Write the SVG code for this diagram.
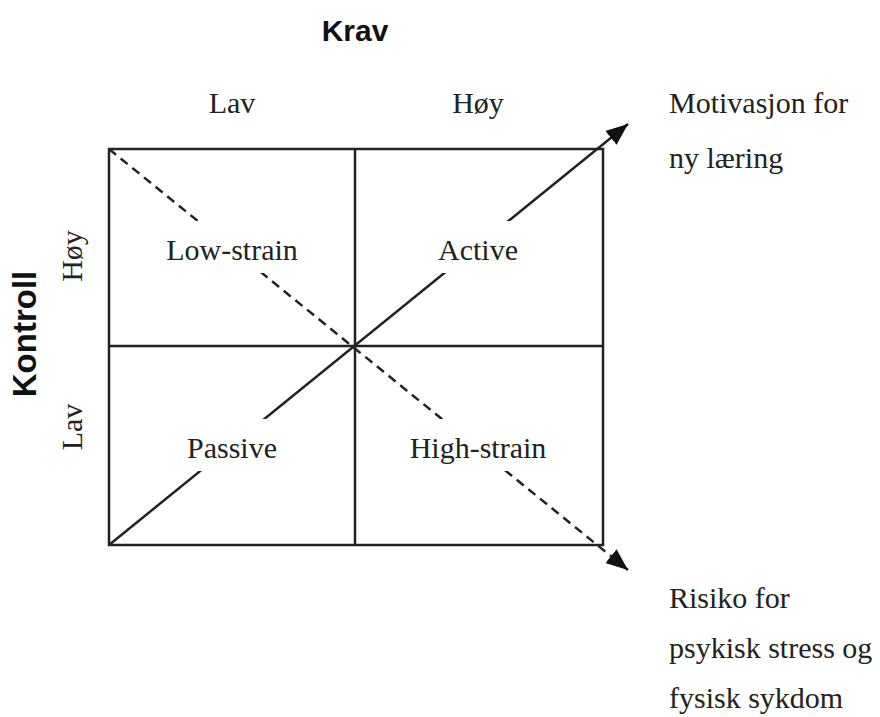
<svg xmlns="http://www.w3.org/2000/svg" width="880" height="717" viewBox="0 0 880 717">
<style>
.serif{font-family:"Liberation Serif","Times New Roman",serif;font-size:30px;fill:#222}
.bold{font-family:"Liberation Sans",Arial,sans-serif;font-weight:bold;font-size:30px;fill:#111}
.ln{stroke:#222;stroke-width:2.5;fill:none}
.dash{stroke:#222;stroke-width:2.5;fill:none;stroke-dasharray:9 6}
.bg{fill:#fff}
</style>
<defs>
<marker id="ah2" viewBox="0 0 22 18" refX="22" refY="9" markerWidth="22" markerHeight="18" markerUnits="userSpaceOnUse" orient="auto">
<path d="M0,0 L22,9 L0,18 z" fill="#111"/>
</marker>
</defs>
<g id="titles">
<text class="bold" x="355" y="41" text-anchor="middle">Krav</text>
<text class="bold" transform="translate(36,334) rotate(-90)" text-anchor="middle" style="font-size:33px">Kontroll</text>
</g>
<g id="axis-labels">
<text class="serif" x="232" y="113" text-anchor="middle">Lav</text>
<text class="serif" x="478" y="113" text-anchor="middle">Høy</text>
<text class="serif" transform="translate(82,256) rotate(-90)" text-anchor="middle">Høy</text>
<text class="serif" transform="translate(82,427) rotate(-90)" text-anchor="middle">Lav</text>
</g>
<g id="grid">
<rect class="ln" x="109" y="149" width="494" height="396"/>
<line class="ln" x1="355" y1="149" x2="355" y2="545"/>
<line class="ln" x1="109" y1="346" x2="603" y2="346"/>
</g>
<g id="connectors">
<line class="ln" x1="109" y1="545" x2="628" y2="124" marker-end="url(#ah2)"/>
<line class="dash" x1="109" y1="149" x2="628" y2="570" marker-end="url(#ah2)"/>
</g>
<g id="low-strain">
<rect class="bg" x="158" y="221" width="148" height="52"/>
<text class="serif" x="232" y="260" text-anchor="middle">Low-strain</text>
</g>
<g id="active">
<rect class="bg" x="434" y="221" width="88" height="52"/>
<text class="serif" x="478" y="260" text-anchor="middle">Active</text>
</g>
<g id="passive">
<rect class="bg" x="180" y="419" width="104" height="52"/>
<text class="serif" x="232" y="458" text-anchor="middle">Passive</text>
</g>
<g id="high-strain">
<rect class="bg" x="402" y="419" width="152" height="52"/>
<text class="serif" x="478" y="458" text-anchor="middle">High-strain</text>
</g>
<g id="motivasjon">
<text class="serif" x="669" y="113">Motivasjon for</text>
<text class="serif" x="669" y="168">ny læring</text>
</g>
<g id="risiko">
<text class="serif" x="669" y="608">Risiko for</text>
<text class="serif" x="669" y="658">psykisk stress og</text>
<text class="serif" x="669" y="708">fysisk sykdom</text>
</g>
</svg>
